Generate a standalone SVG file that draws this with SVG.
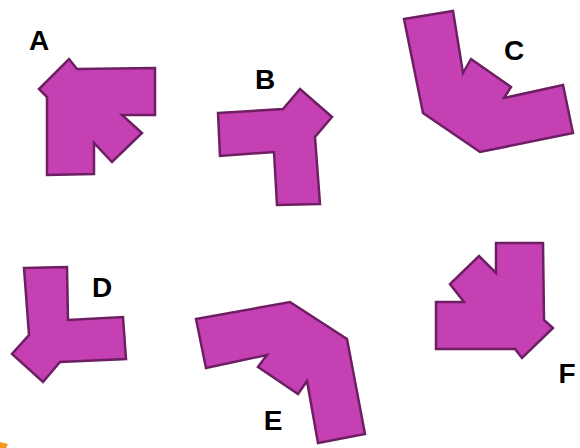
<svg xmlns="http://www.w3.org/2000/svg" width="580" height="448" viewBox="0 0 580 448">
<style>
.shape{fill:#c541b3;stroke:#6e1f63;stroke-width:2.5;stroke-linejoin:miter}
.lbl{font-family:"Liberation Sans",Arial,sans-serif;font-weight:bold;font-size:28px;fill:#000;text-anchor:middle}
</style>
<rect width="580" height="448" fill="#fff"/>
<g id="A">
<polygon class="shape" points="69,59 77,69 155,68 155,115 122,115 142,133 112,162 94,143 94,174 47,175 47,97 39,89"/>
<text class="lbl" x="39" y="50">A</text>
</g>
<g id="B">
<polygon class="shape" points="218,113 283,109 300,89 332,117 315,137 320,204 277,205 274,152 220,156"/>
<text class="lbl" x="265" y="89">B</text>
</g>
<g id="C">
<polygon class="shape" points="404,19 453,11 463,73 471,59 511,87 504,98 563,85 573,133 480,152 423,113"/>
<text class="lbl" x="514" y="60">C</text>
</g>
<g id="D">
<polygon class="shape" points="24,268 67,267 68,320 123,317 126,359 60,362 43,382 12,354 29,335"/>
<text class="lbl" x="102" y="297">D</text>
</g>
<g id="E">
<polygon class="shape" points="196,319 290,302 347,339 365,434 318,443 307,381 298,394 258,367 267,355 206,368"/>
<text class="lbl" x="273" y="430">E</text>
</g>
<g id="F">
<polygon class="shape" points="496,243 543,243 544,320 553,328 522,358 515,349 436,349 436,302 464,302 450,284 479,256 496,273"/>
<text class="lbl" x="567" y="383">F</text>
</g>
<polygon points="0,442 8,444 6,448 0,448" fill="#f7941d"/>
</svg>
